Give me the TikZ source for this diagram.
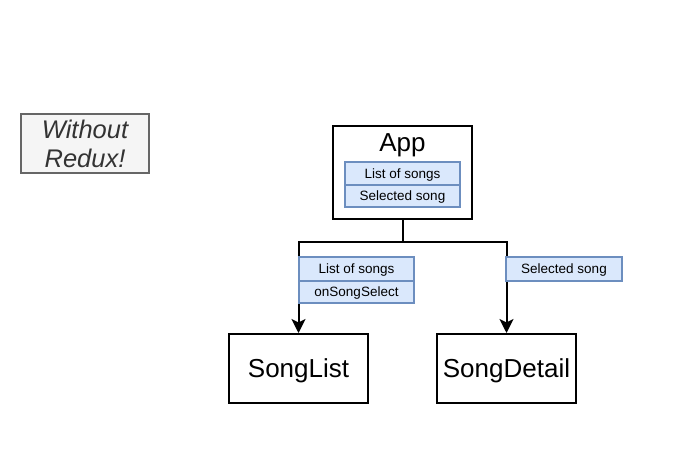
\documentclass[tikz,border=0pt]{standalone}
\usepackage{fontspec}
\setmainfont{Liberation Sans}
\usetikzlibrary{arrows.meta}
\definecolor{lblfill}{HTML}{DAE8FC}
\definecolor{lbldraw}{HTML}{6C8EBF}
\definecolor{notefill}{HTML}{F5F5F5}
\definecolor{notedraw}{HTML}{666666}
\definecolor{notetext}{HTML}{333333}
\tikzset{
  mainbox/.style={draw=black, line width=2pt, fill=white, inner sep=0pt},
  lblbox/.style={draw=lbldraw, line width=1.5pt, fill=lblfill, minimum width=115pt, inner sep=0pt,
    font=\fontsize{13.5}{15}\selectfont, text height=9.7pt, text depth=0pt},
  conn/.style={line width=2pt, draw=black},
  arr/.style={conn, -{Stealth[length=14pt,width=14pt,inset=3.5pt]}},
  bigtext/.style={font=\fontsize{26}{30}\selectfont, text height=18.6pt, text depth=0pt}
}
\begin{document}
\begin{tikzpicture}[x=1pt,y=-1pt]
\useasboundingbox (0,0) rectangle (697,471);
% note
\node[draw=notedraw, line width=2pt, fill=notefill, minimum width=128pt, minimum height=59pt, inner sep=0pt,
      text=notetext, font=\fontsize{25.5}{29}\selectfont\itshape, align=center] (note) at (85,143.5) {Without\\Redux!};
% App
\node[mainbox, minimum width=139pt, minimum height=93pt] (app) at (402.5,172.5) {};
\node[bigtext, inner sep=0pt] (apptext) at (402.5,142.5) {App};
\node[lblbox, minimum height=23pt] (a1) at (402.5,173.5) {List of songs};
\node[lblbox, minimum height=22pt] (a2) at (402.5,196) {Selected song};
% children
\node[mainbox, minimum width=139pt, minimum height=69pt, bigtext] (songlist) at (298.5,368.5) {SongList};
\node[mainbox, minimum width=139pt, minimum height=69pt, bigtext] (songdetail) at (506.5,368.5) {SongDetail};
% connectors
\coordinate (j) at (402.5,242);
\draw[conn] (app.south) -- (j);
\draw[arr] (j) -| (songlist.north);
\draw[arr] (j) -| (songdetail.north);
% edge labels
\node[lblbox, minimum height=24pt] (l1) at (356.5,269) {List of songs};
\node[lblbox, minimum height=22pt] (l2) at (356.5,292) {onSongSelect};
\node[lblbox, minimum width=116pt, minimum height=24pt] (r1) at (564,269) {Selected song};
\end{tikzpicture}
\end{document}
